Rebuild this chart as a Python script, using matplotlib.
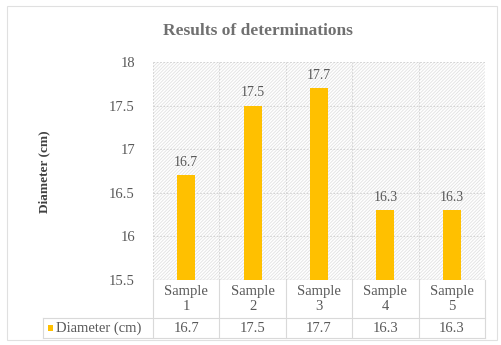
import matplotlib.pyplot as plt
from matplotlib.lines import Line2D
from matplotlib.patches import Rectangle

categories = ['Sample\n1', 'Sample\n2', 'Sample\n3', 'Sample\n4', 'Sample\n5']
diameters = [16.7, 17.5, 17.7, 16.3, 16.3]
series_name = 'Diameter (cm)'
yticks = [15.5, 16, 16.5, 17, 17.5, 18]

plt.rcParams['font.family'] = ['Liberation Serif', 'DejaVu Serif']
plt.rcParams['hatch.linewidth'] = 0.6
txt = '#595959'
bar_color = '#FFC000'
line_color = '#d9d9d9'

fig = plt.figure(figsize=(5.02, 3.45), dpi=100)
W, H = 502.0, 345.0

def fx(px):
    return px / W

def fy(py):
    return 1 - py / H

# outer chart frame
fig.add_artist(Rectangle((fx(7), fy(340)), fx(497) - fx(7), fy(6) - fy(340),
                         transform=fig.transFigure, fill=False,
                         edgecolor='#e0e0e0', lw=0.8))

left, right, top, bottom = 153, 485, 62, 280
ax = fig.add_axes([fx(left), fy(bottom), fx(right) - fx(left), fy(top) - fy(bottom)])

x = list(range(len(diameters)))
ax.set_xlim(-0.5, len(diameters) - 0.5)
ax.set_ylim(yticks[0], yticks[-1])

# hatched plot background
ax.add_patch(Rectangle((0, 0), 1, 1, transform=ax.transAxes, facecolor='white',
                       edgecolor='#e2e2e2', hatch='//////////', lw=0, zorder=0))

ax.bar(x, diameters, width=0.27, color=bar_color, zorder=3)
for xi, v in zip(x, diameters):
    ax.text(xi, v + 0.07, f'{v}', ha='center', va='bottom', fontsize=10, color=txt)

# dotted grid
for yv in yticks[1:]:
    ax.axhline(yv, color='#cfcfcf', lw=0.6, ls=(0, (2, 2)), zorder=1)
for xv in [i + 0.5 for i in x]:
    ax.axvline(xv, color='#cfcfcf', lw=0.6, ls=(0, (2, 2)), zorder=1)
ax.axvline(-0.5, color='#cfcfcf', lw=0.6, ls=(0, (2, 2)), zorder=1)

for s in ax.spines.values():
    s.set_visible(False)
ax.axhline(yticks[0], color=line_color, lw=1.0, zorder=2)

ax.set_xticks([])
ax.set_yticks(yticks)
ax.set_yticklabels([f'{t:g}' for t in yticks], fontsize=10.5, color=txt)
ax.tick_params(axis='y', length=0, pad=13)

fig.text(fx(44), fy(172), 'Diameter (cm)', rotation=90, ha='center', va='center',
         fontsize=9.5, fontweight='bold', color='#404040')
fig.text(fx(258), fy(31), 'Results of determinations', ha='center', va='center',
         fontsize=12.5, fontweight='bold', color='#707070')

# data table under the axis
col_w = (right - left) / len(diameters)
row1, row2 = 318, 338
for i in range(len(diameters) + 1):
    xp = left + i * col_w
    fig.add_artist(Line2D([fx(xp), fx(xp)], [fy(bottom), fy(row2)],
                          transform=fig.transFigure, color=line_color, lw=0.8))
fig.add_artist(Line2D([fx(43), fx(43)], [fy(row1), fy(row2)],
                      transform=fig.transFigure, color=line_color, lw=0.8))
for yp in (row1, row2):
    fig.add_artist(Line2D([fx(43), fx(right)], [fy(yp), fy(yp)],
                          transform=fig.transFigure, color=line_color, lw=0.8))

for i, (cat, v) in enumerate(zip(categories, diameters)):
    cx = left + (i + 0.5) * col_w
    fig.text(fx(cx), fy((bottom + row1) / 2), cat, ha='center', va='center',
             fontsize=10.5, color=txt, linespacing=1.15)
    fig.text(fx(cx), fy((row1 + row2) / 2), f'{v}', ha='center', va='center',
             fontsize=10.5, color=txt)

fig.add_artist(Rectangle((fx(48), fy(331)), fx(5), fy(325) - fy(331),
                         transform=fig.transFigure, color=bar_color, lw=0))
fig.text(fx(56), fy((row1 + row2) / 2), series_name, ha='left', va='center',
         fontsize=10.5, color=txt)

fig.savefig('out.png', dpi=100)
